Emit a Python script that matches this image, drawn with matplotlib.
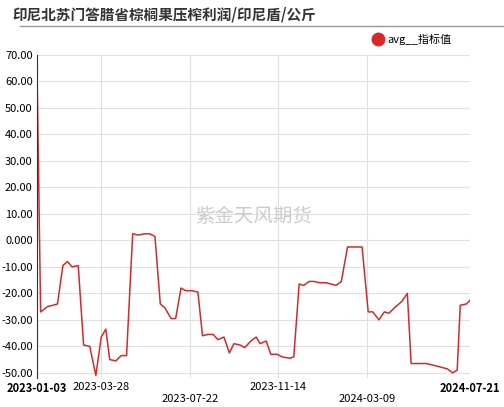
import matplotlib.pyplot as plt
import pandas as pd

plt.rcParams['font.family'] = ['Noto Sans CJK SC', 'DejaVu Sans']

start = pd.Timestamp('2023-01-03')
day_offsets = [0, 5, 14, 21, 27, 34, 40, 46, 54, 61, 69, 77, 84, 90, 95, 103, 110, 117,
               125, 132, 141, 147, 154, 161, 167, 175, 181, 188, 194, 202, 210, 216, 223,
               230, 236, 244, 251, 257, 265, 271, 279, 286, 291, 299, 305, 313, 320, 330,
               335, 342, 348, 355, 361, 369, 377, 384, 390, 397, 405, 411, 418, 424, 432,
               438, 446, 453, 459, 468, 476, 483, 488, 495, 508, 522, 535, 542, 548, 552,
               560, 565]
values = [70, -27, -25, -24.5, -24, -9.5, -8, -10, -9.5, -39.5, -40, -51, -36.5, -33.5,
          -45, -45.5, -43.5, -43.5, 2.5, 2, 2.5, 2.5, 1.5, -24, -25.5, -29.5, -29.5, -18,
          -19, -19, -19.5, -36, -35.5, -35.5, -37.5, -36.5, -42.5, -39, -39.5, -40.5, -38,
          -36.5, -39, -38, -43, -43, -44, -44.5, -44, -16.5, -17, -15.5, -15.5, -16, -16,
          -16.5, -17, -15.5, -2.5, -2.5, -2.5, -2.5, -27, -27, -30, -27, -27.5, -25, -23,
          -20, -46.5, -46.5, -46.5, -47.5, -48.5, -50, -49, -24.5, -24, -22.5]
tick_dates = ['2023-01-03', '2023-03-28', '2023-07-22', '2023-11-14', '2024-03-09', '2024-07-21']
y_ticks = [70, 60, 50, 40, 30, 20, 10, 0, -10, -20, -30, -40, -50]

dates = [start + pd.Timedelta(days=d) for d in day_offsets]

fig = plt.figure(figsize=(5.04, 4.07), dpi=100)
ax = fig.add_axes([0.073, 0.071, 0.86, 0.794])
ax.plot(dates, values, color='#d42a2a', lw=1.1, label='avg__指标值')

ax.set_ylim(-52, 70)
ax.set_xlim(pd.Timestamp(tick_dates[0]), pd.Timestamp(tick_dates[-1]))
ax.set_yticks(y_ticks)
ax.set_yticklabels(['0.000' if v == 0 else f'{v:.2f}' for v in y_ticks], fontsize=8)
td = [pd.Timestamp(t) for t in tick_dates]
ax.set_xticks(td)
ax.set_xticklabels([t if i not in (2, 4) else '\n' + t for i, t in enumerate(tick_dates)], fontsize=8)
labs = ax.get_xticklabels()
labs[0].set_fontweight('bold')
labs[-1].set_fontweight('bold')
ax.grid(True, color='#e0e0e0', lw=0.8)
ax.tick_params(length=0, pad=3)
for s in ['top', 'right', 'bottom']:
    ax.spines[s].set_visible(False)
ax.spines['left'].set_color('#333333')

ax.text(0.5, 0.5, '紫金天风期货', transform=ax.transAxes, ha='center', va='center',
        fontsize=14, color='#cccccc')

fig.text(0.025, 0.965, '印尼北苏门答腊省棕榈果压榨利润/印尼盾/公斤', fontsize=10.5,
         fontweight='bold', color='#333333', va='center')
fig.add_artist(plt.Line2D([0.04, 1.0], [0.935, 0.935], color='#999999', lw=1))
ax.legend(loc='lower right', bbox_to_anchor=(0.98, 1.0), frameon=False, fontsize=8,
          handlelength=0, handletextpad=0.8)
leg = ax.get_legend()
for h in leg.legend_handles:
    h.set_marker('o')
    h.set_markersize(9)
    h.set_linestyle('')

fig.savefig('out.png', dpi=100)
